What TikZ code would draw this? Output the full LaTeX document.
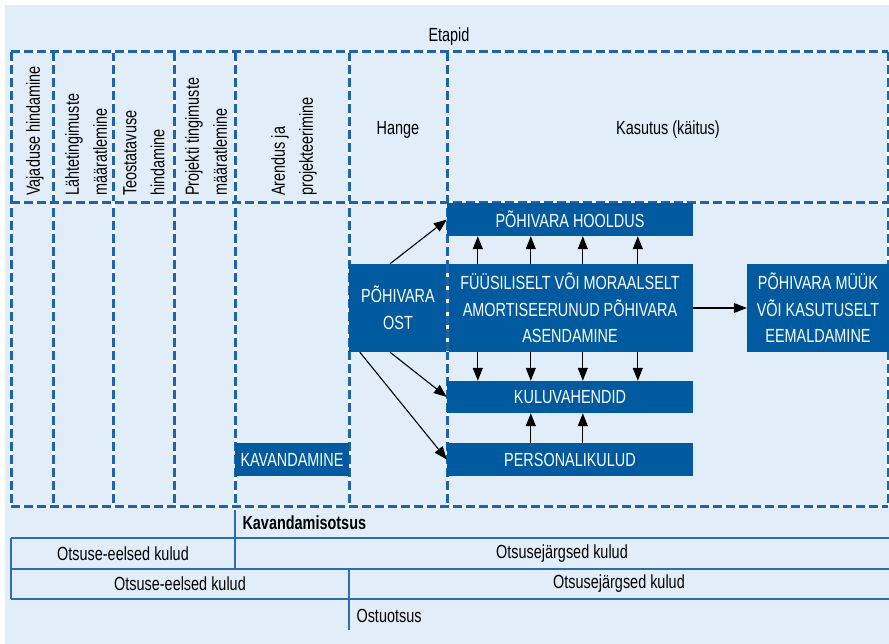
\documentclass[tikz,border=0pt]{standalone}
\usepackage{fontspec}
\setmainfont[FakeStretch=0.76]{Liberation Sans}
\usetikzlibrary{arrows.meta}
\definecolor{bgblue}{RGB}{225,237,248}
\definecolor{boxblue}{RGB}{0,90,160}
\definecolor{lineblue}{RGB}{30,100,170}
\definecolor{rowblue}{RGB}{45,108,178}
\begin{document}
\begin{tikzpicture}[x=1pt,y=-1pt,
  font=\fontsize{19}{26.5}\selectfont,
  box/.style={fill=boxblue,text=white,inner sep=0pt,align=center},
  colhead/.style={rotate=90,anchor=west,align=left,inner sep=0pt,
    font=\fontsize{19}{28}\selectfont},
  gridbase/.style={white,line width=3},
  griddash/.style={lineblue,line width=3,dash pattern=on 9pt off 4pt},
  rowline/.style={rowblue,line width=1.5},
  arr/.style={-{Triangle[length=13pt,width=10pt]},line width=1.1}]
\useasboundingbox (0,0) rectangle (889,644);
\fill[bgblue] (5,5) rectangle (889,644);
% dashed grid of the stages
\foreach \x in {11,53,113,174,235,349,447,888} {
  \draw[gridbase] (\x,52) -- (\x,506);
  \draw[griddash] (\x,52) -- (\x,506);
}
\foreach \y in {52,203,506} {
  \draw[gridbase] (11,\y) -- (888,\y);
  \draw[griddash] (11,\y) -- (888,\y);
}
\node (etapid) at (449,37) {Etapid};
\node[colhead] (c1) at (35,196) {Vajaduse hindamine};
\node[colhead] (c2) at (86,196) {Lähtetingimuste\\määratlemine};
\node[colhead] (c3) at (144,196) {Teostatavuse\\hindamine};
\node[colhead] (c4) at (206,196) {Projekti tingimuste\\määratlemine};
\node[colhead] (c5) at (294,196) {Arendus ja\\projekteerimine};
\node (hange) at (398,130) {Hange};
\node (kasutus) at (668,130) {Kasutus (käitus)};
% boxes
\node[box,minimum width=246,minimum height=33] (hooldus) at (570,219.5) {PÕHIVARA HOOLDUS};
\node[box,minimum width=246,minimum height=88] (fyys) at (570,308) {FÜÜSILISELT VÕI MORAALSELT\\AMORTISEERUNUD PÕHIVARA\\ASENDAMINE};
\node[box,minimum width=246,minimum height=32] (kulu) at (570,397) {KULUVAHENDID};
\node[box,minimum width=246,minimum height=33] (personal) at (570,459.5) {PERSONALIKULUD};
\node[box,minimum width=98,minimum height=88] (ost) at (398,308) {PÕHIVARA\\OST};
\node[box,minimum width=142,minimum height=88] (myyk) at (818,308) {PÕHIVARA MÜÜK\\VÕI KASUTUSELT\\EEMALDAMINE};
\node[box,minimum width=114,minimum height=33] (kavand) at (292,459.5) {KAVANDAMINE};
\draw[gridbase] (447,264) -- (447,352);
\draw[griddash] (447,264) -- (447,352);
% arrows
\draw[arr] ([xshift=-8]ost.north) -- (hooldus.west);
\draw[arr] ([xshift=-8]ost.south) -- (kulu.west);
\draw[arr] ([xshift=11]ost.south west) -- (personal.west);
\foreach \d in {31,84,136,191} {
  \draw[arr] ([xshift=\d]fyys.north west) -- ([xshift=\d]hooldus.south west);
  \draw[arr] ([xshift=\d]fyys.south west) -- ([xshift=\d]kulu.north west);
}
\foreach \d in {84,136}
  \draw[arr] ([xshift=\d]personal.north west) -- ([xshift=\d]kulu.south west);
\draw[arr] (fyys.east) -- (myyk.west);
% decisions and costs
\draw[rowline] (11,538) -- (889,538);
\draw[rowline] (11,569) -- (889,569);
\draw[rowline] (11,599) -- (889,599);
\draw[rowline] (11,538) -- (11,599);
\draw[rowline] (235,510) -- (235,569);
\draw[rowline] (349,569) -- (349,630);
\node[anchor=west,font=\fontsize{19}{20}\selectfont\bfseries] (kavotsus) at (239,523) {Kavandamisotsus};
\node (eel1) at (123,553.5) {Otsuse-eelsed kulud};
\node (jar1) at (562,553.5) {Otsusejärgsed kulud};
\node (eel2) at (180,584) {Otsuse-eelsed kulud};
\node (jar2) at (619,584) {Otsusejärgsed kulud};
\node[anchor=west] (ostotsus) at (353,616) {Ostuotsus};
\end{tikzpicture}
\end{document}
